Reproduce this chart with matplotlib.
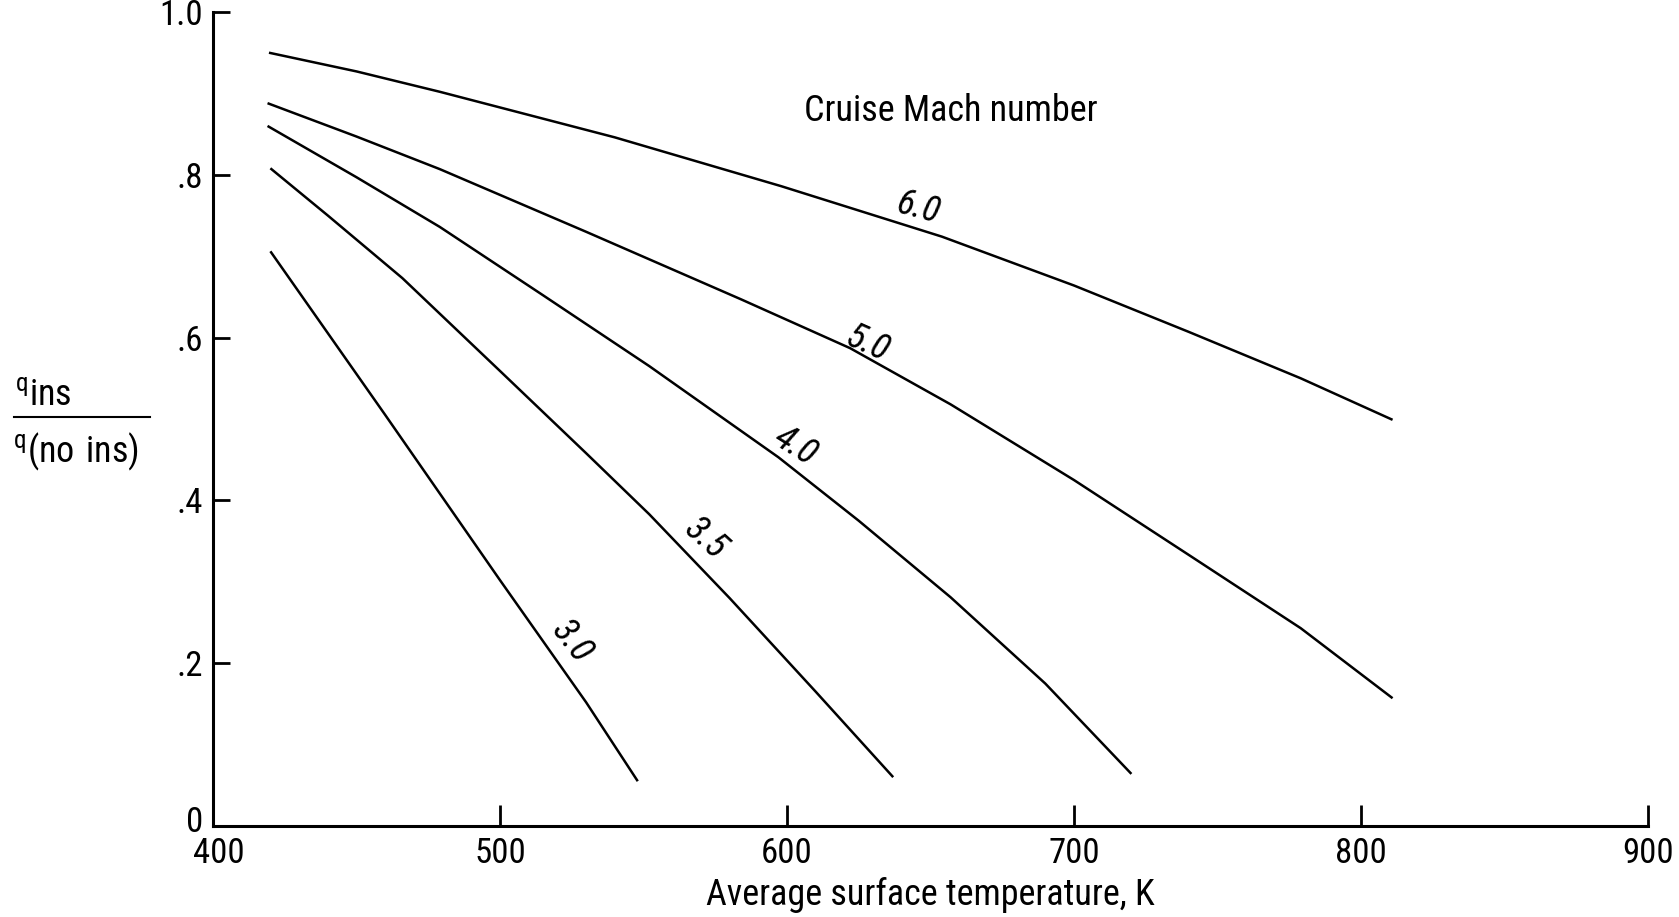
import matplotlib
matplotlib.use("Agg")
import matplotlib.pyplot as plt
from matplotlib import font_manager
from matplotlib.lines import Line2D
from matplotlib.transforms import ScaledTranslation

# ---- data ----
temp_30 = [420, 460, 500, 530, 548]
q_30 = [0.706, 0.505, 0.302, 0.152, 0.055]

temp_35 = [420, 440, 466, 500, 530, 552, 580, 610, 637]
q_35 = [0.808, 0.750, 0.673, 0.559, 0.458, 0.383, 0.280, 0.165, 0.060]

temp_40 = [419, 450, 479, 515, 552, 597, 625, 657, 690, 720]
q_40 = [0.860, 0.797, 0.736, 0.652, 0.565, 0.453, 0.375, 0.281, 0.175, 0.064]

temp_50 = [419, 450, 479, 530, 584, 622, 657, 700, 740, 779, 811]
q_50 = [0.888, 0.847, 0.807, 0.730, 0.647, 0.587, 0.518, 0.425, 0.333, 0.243, 0.157]

temp_60 = [419.5, 450, 479, 540, 598, 654, 700, 740, 779, 811]
q_60 = [0.950, 0.927, 0.902, 0.846, 0.786, 0.724, 0.664, 0.607, 0.550, 0.499]

curve_labels = ["3.0", "3.5", "4.0", "5.0", "6.0"]
label_x = [524.9, 571.3, 603.1, 627.8, 645.6]
label_y = [0.227, 0.354, 0.467, 0.592, 0.759]
label_rot = [-52, -42, -32, -24, -15]

x_ticks = [400, 500, 600, 700, 800, 900]
x_ticklabels = ["400", "500", "600", "700", "800", "900"]
y_ticks = [0, 0.2, 0.4, 0.6, 0.8, 1.0]
y_ticklabels = ["0", ".2", ".4", ".6", ".8", "1.0"]

# ---- font ----
names = {f.name for f in font_manager.fontManager.ttflist}
fam = next((n for n in ["Liberation Sans Narrow", "DejaVu Sans Condensed",
                        "Roboto Condensed", "Open Sans Condensed"] if n in names),
           "DejaVu Sans")
plt.rcParams["font.family"] = [fam]
narrow = fam != "DejaVu Sans"
fs = 25 if narrow else 19
fs_big = 26 if narrow else 20

fig = plt.figure(figsize=(16.79, 9.17), dpi=100)
ax = fig.add_axes([213 / 1679, 1 - 826 / 917, (1648 - 213) / 1679, (826 - 12) / 917])

for t, q in [(temp_30, q_30), (temp_35, q_35), (temp_40, q_40), (temp_50, q_50), (temp_60, q_60)]:
    ax.plot(t, q, color="black", lw=1.8, solid_capstyle="butt", solid_joinstyle="round")

for s, x, y, r in zip(curve_labels, label_x, label_y, label_rot):
    ax.text(x, y, s, rotation=r, fontsize=fs_big, style="italic",
            ha="center", va="center", rotation_mode="anchor")

ax.text(657.2, 0.878, "Cruise Mach number", fontsize=fs_big, ha="center", va="center")

ax.set_xlim(400, 900)
ax.set_ylim(0, 1.0)
ax.set_xticks(x_ticks)
ax.set_xticklabels(x_ticklabels)
ax.set_yticks(y_ticks)
ax.set_yticklabels(y_ticklabels)
ax.spines["top"].set_visible(False)
ax.spines["right"].set_visible(False)
for sp in ("left", "bottom"):
    ax.spines[sp].set_linewidth(2.2)
ax.tick_params(axis="both", direction="in", width=2.0, labelsize=fs)
ax.tick_params(axis="x", length=15, pad=8)
ax.tick_params(axis="y", length=12, pad=7)

# nudge the corner labels apart as in the reference
fig.canvas.draw()
ylab0 = ax.get_yticklabels()[0]
ylab0.set_transform(ylab0.get_transform() + ScaledTranslation(0, 5 / 72, fig.dpi_scale_trans))
xlab0 = ax.get_xticklabels()[0]
xlab0.set_transform(xlab0.get_transform() + ScaledTranslation(4 / 72, 0, fig.dpi_scale_trans))

ax.set_xlabel("Average surface temperature, K", fontsize=fs_big, labelpad=5)

# y label as a fraction
fig.text(43 / 1679, 1 - 405 / 917, r"$\mathregular{^{q}ins}$", fontsize=fs_big,
         ha="center", va="baseline")
fig.text(76 / 1679, 1 - 462 / 917, r"$\mathregular{^{q}(no\ ins)}$", fontsize=fs_big,
         ha="center", va="baseline")
fig.add_artist(Line2D([14 / 1679, 150 / 1679], [1 - 417 / 917, 1 - 417 / 917],
                      transform=fig.transFigure, color="black", lw=1.5))

fig.savefig("out.png", dpi=100)
